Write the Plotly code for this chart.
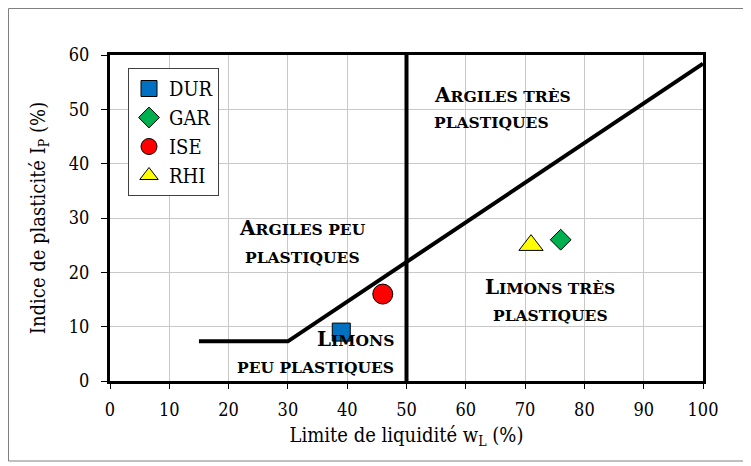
import plotly.graph_objects as go

# Data
samples = ["DUR", "GAR", "ISE", "RHI"]
wl = [39, 76, 46, 71]
ip = [9, 26, 16, 25]
symbols = ["square", "diamond", "circle", "triangle-up"]
colors = ["#0070C0", "#00B050", "#FF0000", "#FFFF00"]
sizes = [18, 16, 20, 21]

a_line_x = [15, 30, 100]
a_line_y = [7.3, 7.3, 58.4]
v_line_x = [50, 50]
v_line_y = [0, 60]

x_ticks = [0, 10, 20, 30, 40, 50, 60, 70, 80, 90, 100]
y_ticks = [0, 10, 20, 30, 40, 50, 60]

OFF = 8  # page body margin
W, H = 751 - OFF, 466 - OFF
L, R, T, B = 110 - OFF, 48, 55 - OFF, 85
PW, PH = W - L - R, H - T - B

FONT = "DejaVu Serif Condensed, DejaVu Serif"
AFONT = "DejaVu Serif"
BIG, SMALL = 20, 15.5

def sc(text):
    """Small caps emulation."""
    out = []
    for word in text.split(" "):
        first, rest = word[0], word[1:]
        if word in ("ARGILES", "LIMONS"):
            out.append(first + f"<span style='font-size:{SMALL}px'>{rest}</span>")
        else:
            out.append(f"<span style='font-size:{SMALL}px'>{word}</span>")
    return "<b>" + f"<span style='font-size:{SMALL}px'> </span>".join(out) + "</b>"

fig = go.Figure()

fig.add_trace(go.Scatter(x=a_line_x, y=a_line_y, mode="lines",
                         line=dict(color="black", width=4), showlegend=False, hoverinfo="skip"))
fig.add_trace(go.Scatter(x=v_line_x, y=v_line_y, mode="lines",
                         line=dict(color="black", width=4), showlegend=False, hoverinfo="skip"))

for s, x, y, sym, c, sz in zip(samples, wl, ip, symbols, colors, sizes):
    fig.add_trace(go.Scatter(x=[x], y=[y], mode="markers", name=s,
                             marker=dict(symbol=sym, color=c, size=sz,
                                         line=dict(color="black", width=1))))

labels = [
    ("ARGILES PEU", 32.4, 28.2, "center"),
    ("PLASTIQUES", 32.4, 22.8, "center"),
    ("ARGILES TRÈS", 54.3, 52.6, "left"),
    ("PLASTIQUES", 54.3, 47.5, "left"),
    ("LIMONS TRÈS", 74.2, 17.3, "center"),
    ("PLASTIQUES", 74.2, 12.1, "center"),
    ("LIMONS", 48.2, 7.7, "right"),
    ("PEU PLASTIQUES", 48.2, 2.4, "right"),
]
for txt, x, y, anc in labels:
    fig.add_annotation(x=x, y=y, text=sc(txt), showarrow=False, xanchor=anc, yanchor="middle",
                       font=dict(family=AFONT, size=BIG, color="black"))

def px(xp):
    return (xp - OFF - L) / PW
def py(yp):
    return 1 - (yp - OFF - T) / PH

# outer chart border
fig.add_shape(type="rect", xref="paper", yref="paper", x0=px(8.5), x1=px(747), y0=py(461), y1=py(8.5),
              line=dict(color="#808080", width=1), layer="below")

fig.update_layout(
    width=W, height=H,
    margin=dict(l=L, r=R, t=T, b=B),
    paper_bgcolor="white", plot_bgcolor="white",
    font=dict(family=FONT, size=18, color="black"),
    legend=dict(x=px(128), y=py(68), xanchor="left", yanchor="top",
                bgcolor="white", bordercolor="#404040", borderwidth=1,
                font=dict(family=FONT, size=20), itemwidth=30),
    xaxis=dict(range=[0, 100], tickvals=x_ticks, ticks="outside", ticklen=5, tickcolor="black",
               showline=True, linecolor="black", linewidth=3, mirror=True,
               showgrid=True, gridcolor="#C8C8C8", gridwidth=1, zeroline=False,
               tickfont=dict(family=FONT, size=18), ticklabelstandoff=5,
               title=dict(text="Limite de liquidité w<sub>L</sub> (%)", font=dict(family=FONT, size=20), standoff=10)),
    yaxis=dict(range=[0, 60], tickvals=y_ticks, ticks="outside", ticklen=6, tickcolor="black",
               showline=True, linecolor="black", linewidth=3, mirror=True,
               showgrid=True, gridcolor="#C8C8C8", gridwidth=1, zeroline=False,
               tickfont=dict(family=FONT, size=18), ticklabelstandoff=8,
               title=dict(text="Indice de plasticité I<sub>P</sub> (%)", font=dict(family=FONT, size=20), standoff=18)),
)

fig.write_html("out.html")
